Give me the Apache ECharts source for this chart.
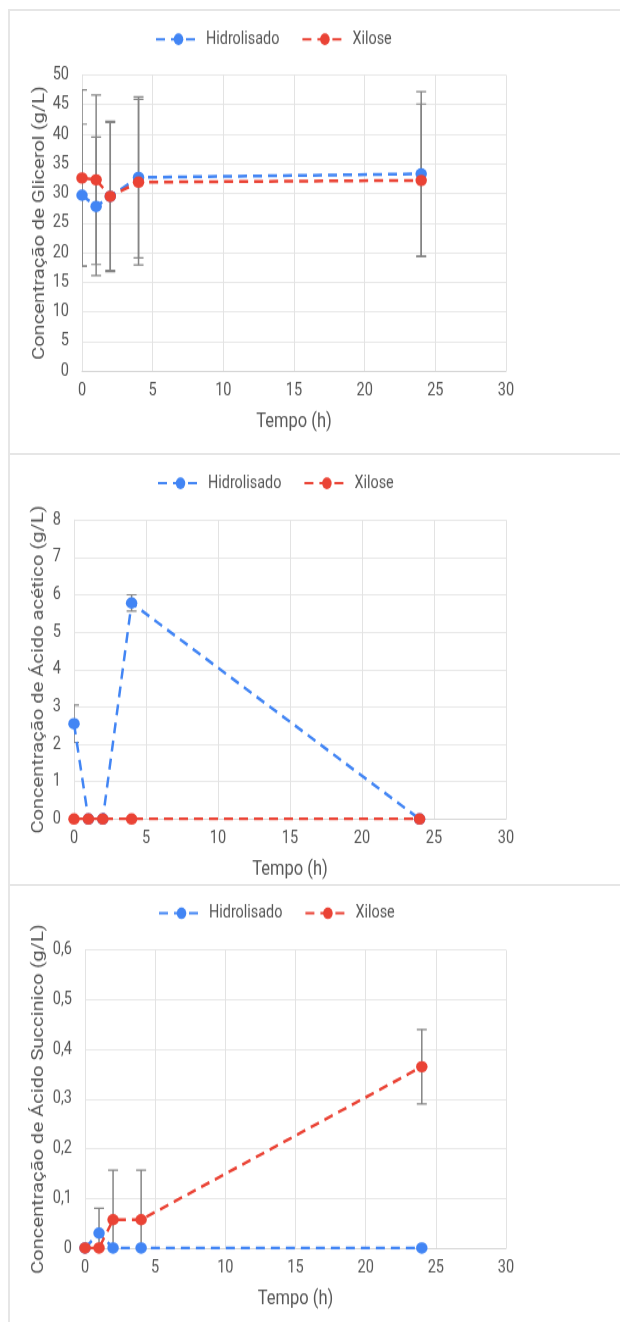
<!DOCTYPE html>
<html>
<head>
<meta charset="utf-8">
<script src="https://cdn.jsdelivr.net/npm/echarts@6/dist/echarts.min.js"></script>
<style>
  html, body { margin: 0; padding: 0; background: #fff; }
  #wrap { position: relative; width: 620px; height: 1322px; overflow: hidden; }
  .panel { position: absolute; left: 8px; width: 640px; border: 2px solid #e6e6e6; box-sizing: border-box; }
  #chart { position: absolute; left: 0; top: 0; width: 620px; transform-origin: 0 0; }
</style>
</head>
<body>
<div id="wrap">
  <div class="panel" style="top:9px;height:446px;"></div>
  <div class="panel" style="top:453px;height:433px;"></div>
  <div class="panel" style="top:884px;height:460px;"></div>
  <div id="chart"></div>
</div>
<script>
// ---- data ----
const times = [0, 1, 2, 4, 24];
const seriesNames = ['Hidrolisado', 'Xilose'];

const glicerolHid = [29.7, 27.8, 29.5, 32.7, 33.3];
const glicerolHidErr = [12.0, 11.7, 12.7, 13.6, 13.9];
const glicerolXil = [32.6, 32.3, 29.5, 31.9, 32.2];
const glicerolXilErr = [14.9, 14.3, 12.5, 14.0, 12.9];

const aceticoHid = [2.55, 0, 0, 5.78, 0];
const aceticoHidErr = [0.5, 0, 0, 0.22, 0];
const aceticoXil = [0, 0, 0, 0, 0];
const aceticoXilErr = [0, 0, 0, 0, 0];

const succinicoHid = [0, 0.03, 0, 0, 0];
const succinicoHidErr = [0, 0.05, 0, 0, 0];
const succinicoXil = [0, 0, 0.057, 0.057, 0.365];
const succinicoXilErr = [0, 0, 0.1, 0.1, 0.075];

const yTitles = ['Concentração de Glicerol (g/L)', 'Concentração de Ácido acético (g/L)', 'Concentração de Ácido Succinico (g/L)'];
const xTitle = 'Tempo (h)';

// ---- style / layout ----
const S = 1.22; // vertical stretch of the reference picture
const BLUE = '#4285F4';
const RED = '#EA4335';
const TXT = '#575757';
const FONT = 'Roboto, "Liberation Sans", Arial, sans-serif';
const Y = v => v / S;

const chartEl = document.getElementById('chart');
chartEl.style.height = (1322 / S) + 'px';
chartEl.style.transform = 'scale(1,' + S + ')';

const panels = [
  { hid: glicerolHid, hidErr: glicerolHidErr, xil: glicerolXil, xilErr: glicerolXilErr,
    ymax: 50, yint: 5, left: 82, top: 75, right: 506, bottom: 371, legendY: 38, legendLeft: 150, yGap: 34,
    fmt: v => String(v) },
  { hid: aceticoHid, hidErr: aceticoHidErr, xil: aceticoXil, xilErr: aceticoXilErr,
    ymax: 8, yint: 1, left: 74, top: 520, right: 506, bottom: 819, legendY: 482, legendLeft: 152, yGap: 27,
    fmt: v => String(v) },
  { hid: succinicoHid, hidErr: succinicoHidErr, xil: succinicoXil, xilErr: succinicoXilErr,
    ymax: 0.6, yint: 0.1, left: 85, top: 950, right: 506, bottom: 1248, legendY: 912, legendLeft: 153, yGap: 38,
    fmt: v => v === 0 ? '0' : v.toFixed(1).replace('.', ',') }
];

const grids = [], xAxes = [], yAxes = [], legends = [], series = [];

function errData(vals, errs) {
  const out = [];
  vals.forEach((v, i) => { if (errs[i] > 0) out.push([times[i], v - errs[i], v + errs[i]]); });
  return out;
}

function errRender(params, api) {
  const x = api.value(0);
  const lo = api.coord([x, api.value(1)]);
  const hi = api.coord([x, api.value(2)]);
  const w = 5;
  const col = '#858585';
  return {
    type: 'group',
    children: [
      { type: 'line', shape: { x1: hi[0], y1: hi[1], x2: lo[0], y2: lo[1] }, style: { stroke: col, lineWidth: 1.5 } },
      { type: 'line', shape: { x1: hi[0] - w, y1: hi[1], x2: hi[0] + w, y2: hi[1] }, style: { stroke: col, lineWidth: 1.5 / S } },
      { type: 'line', shape: { x1: lo[0] - w, y1: lo[1], x2: lo[0] + w, y2: lo[1] }, style: { stroke: col, lineWidth: 1.5 / S } }
    ]
  };
}

panels.forEach((p, k) => {
  grids.push({ left: p.left, top: Y(p.top), width: p.right - p.left, height: Y(p.bottom - p.top), containLabel: false });
  xAxes.push({
    type: 'value', gridIndex: k, min: 0, max: 30, interval: 5,
    name: xTitle, nameLocation: 'middle', nameGap: 33, nameMoveOverlap: false,
    nameTextStyle: { color: TXT, fontSize: 16.5, fontFamily: FONT },
    axisLine: { show: true, lineStyle: { color: '#d6d6d6', width: 1 } },
    axisTick: { show: false },
    axisLabel: { color: TXT, fontSize: 14.5, fontFamily: FONT, margin: 9 },
    splitLine: { show: true, lineStyle: { color: '#e3e3e3', width: 1 } }
  });
  yAxes.push({
    type: 'value', gridIndex: k, min: 0, max: p.ymax, interval: p.yint,
    name: yTitles[k], nameLocation: 'middle', nameGap: p.yGap, nameMoveOverlap: false,
    nameTextStyle: { color: TXT, fontSize: 16.5, fontFamily: FONT },
    axisLine: { show: true, lineStyle: { color: '#e3e3e3', width: 1 } },
    axisTick: { show: false },
    axisLabel: { color: TXT, fontSize: 14.5, fontFamily: FONT, margin: 13, formatter: p.fmt },
    splitLine: { show: true, lineStyle: { color: '#e3e3e3', width: 1 / S } }
  });
  legends.push({
    top: Y(p.legendY) - 11, left: p.legendLeft, itemWidth: 45, itemHeight: 12, itemGap: 22,
    data: seriesNames,
    textStyle: { color: TXT, fontSize: 14.4, fontFamily: FONT }
  });
  [[p.hid, p.hidErr], [p.xil, p.xilErr]].forEach((pair, j) => {
    series.push({
      type: 'custom', name: 'err' + k + j, xAxisIndex: k, yAxisIndex: k,
      renderItem: errRender, clip: true, z: 1, silent: true,
      encode: { x: 0, y: [1, 2] },
      data: errData(pair[0], pair[1])
    });
  });
  [[p.hid, BLUE], [p.xil, RED]].forEach((pair, j) => {
    series.push({
      type: 'line', name: seriesNames[j], xAxisIndex: k, yAxisIndex: k,
      data: times.map((t, i) => [t, pair[0][i]]),
      symbol: 'circle', symbolSize: [11.5, 11.5 / S], showSymbol: true,
      lineStyle: { color: pair[1], width: 2.5, type: [9, 6] },
      itemStyle: { color: pair[1] },
      z: 3 + j, animation: false
    });
  });
});

const chart = echarts.init(chartEl, null, { renderer: 'canvas' });
chart.setOption({
  animation: false,
  backgroundColor: 'transparent',
  grid: grids, xAxis: xAxes, yAxis: yAxes, legend: legends, series: series
});
</script>
</body>
</html>
